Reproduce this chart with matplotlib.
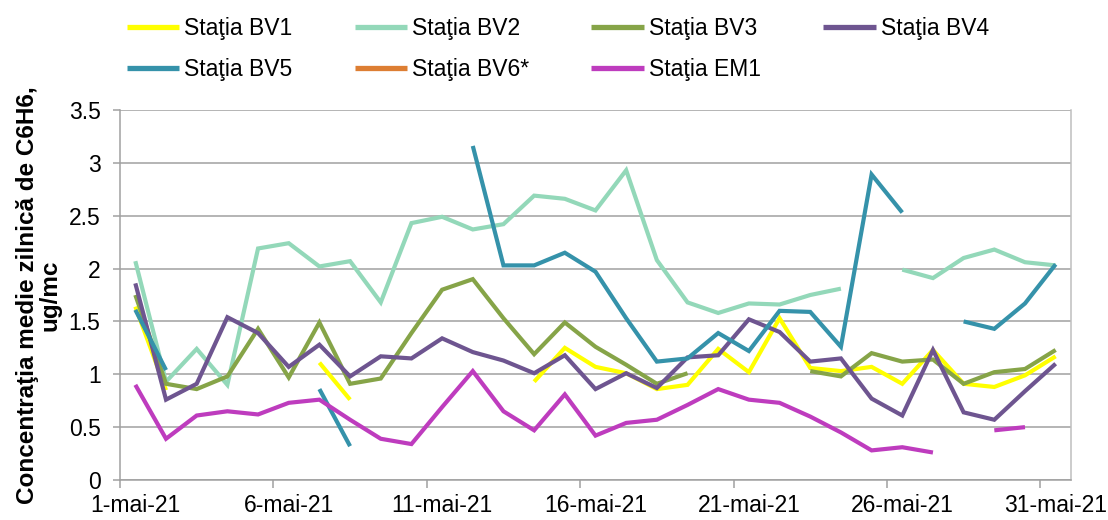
import numpy as np
import matplotlib
matplotlib.use("Agg")
import matplotlib.pyplot as plt

nan = np.nan
days = list(range(1, 32))
tick_days = [1, 6, 11, 16, 21, 26, 31]
tick_labels = ["1-mai-21", "6-mai-21", "11-mai-21", "16-mai-21", "21-mai-21", "26-mai-21", "31-mai-21"]

bv1 = [1.64, 0.85, nan, nan, nan, nan, 1.11, 0.76, nan, nan, nan, nan, nan, 0.93, 1.25, 1.07,
       1.01, 0.86, 0.90, 1.24, 1.02, 1.53, 1.06, 1.03, 1.07, 0.91, 1.23, 0.91, 0.88, 0.99, 1.17]
bv2 = [2.07, 0.93, 1.24, 0.90, 2.19, 2.24, 2.02, 2.07, 1.68, 2.43, 2.49, 2.37, 2.42, 2.69, 2.66, 2.55,
       2.93, 2.08, 1.68, 1.58, 1.67, 1.66, 1.75, 1.81, nan, 1.99, 1.91, 2.10, 2.18, 2.06, 2.03]
bv3 = [1.75, 0.91, 0.86, 0.98, 1.43, 0.97, 1.49, 0.91, 0.96, 1.39, 1.80, 1.90, 1.53, 1.19, 1.49, 1.26,
       1.09, 0.91, 1.01, nan, nan, nan, 1.03, 0.98, 1.20, 1.12, 1.14, 0.91, 1.02, 1.05, 1.23]
bv4 = [1.86, 0.76, 0.91, 1.54, 1.39, 1.07, 1.28, 0.98, 1.17, 1.15, 1.34, 1.21, 1.13, 1.01, 1.18, 0.86,
       1.01, 0.87, 1.16, 1.18, 1.52, 1.40, 1.12, 1.15, 0.77, 0.61, 1.23, 0.64, 0.57, 0.84, 1.10]
bv5 = [1.61, 1.04, nan, nan, nan, nan, 0.86, 0.32, nan, nan, nan, 3.16, 2.03, 2.03, 2.15, 1.97,
       1.53, 1.12, 1.15, 1.39, 1.22, 1.60, 1.59, 1.26, 2.89, 2.53, nan, 1.50, 1.43, 1.67, 2.04]
bv6 = [nan] * 31
em1 = [0.90, 0.39, 0.61, 0.65, 0.62, 0.73, 0.76, 0.57, 0.39, 0.34, 0.69, 1.03, 0.65, 0.47, 0.81, 0.42,
       0.54, 0.57, 0.71, 0.86, 0.76, 0.73, 0.60, 0.45, 0.28, 0.31, 0.26, nan, 0.47, 0.50, nan]

series_names = ["Staţia BV1", "Staţia BV2", "Staţia BV3", "Staţia BV4", "Staţia BV5", "Staţia BV6*", "Staţia EM1"]
series_data = [bv1, bv2, bv3, bv4, bv5, bv6, em1]
colors = ["#FFFF00", "#93D8B9", "#86A448", "#6E5590", "#3592AA", "#DD7E33", "#BE3CBE"]

plt.rcParams["font.family"] = ["Liberation Sans", "DejaVu Sans"]

fig = plt.figure(figsize=(11.08, 5.2), dpi=100)
ax = fig.add_axes([120 / 1108, 40 / 520, 951 / 1108, 370 / 520])

handles = []
for name, vals, c in zip(series_names, series_data, colors):
    h, = ax.plot(days, vals, color=c, lw=3.0, label=name, solid_joinstyle="miter", solid_capstyle="butt")
    handles.append(h)

ax.set_xlim(0.5, 31.5)
ax.set_ylim(0, 3.5)
ax.set_yticks(np.arange(0, 3.51, 0.5))
ax.set_yticklabels(["0", "0.5", "1", "1.5", "2", "2.5", "3", "3.5"])
ax.yaxis.grid(True, color="#A0A0A0", lw=1.1)
ax.set_axisbelow(True)

ax.set_xticks([d - 0.5 for d in tick_days])
ax.set_xticklabels([""] * len(tick_days))
ax.set_xticks(tick_days, minor=True)
ax.set_xticklabels(tick_labels, minor=True)
ax.tick_params(axis="x", which="major", length=6, color="#A0A0A0", width=1.1)
ax.tick_params(axis="x", which="minor", length=0, labelsize=16.5, pad=10)
ax.tick_params(axis="y", length=5, color="#A0A0A0", width=1.1, labelsize=16.5, pad=9)

for s in ["left", "bottom"]:
    ax.spines[s].set_color("#A0A0A0")
    ax.spines[s].set_linewidth(1.1)
ax.spines["right"].set_color("#BFBFBF")
ax.spines["right"].set_linewidth(1.1)
ax.spines["top"].set_visible(False)

ax.set_ylabel("Concentraţia medie zilnică de C6H6,\nug/mc", fontsize=17.5, fontweight="bold",
              labelpad=5, linespacing=1.0)

order = [0, 4, 1, 5, 2, 6, 3]
leg = fig.legend([handles[i] for i in order], [series_names[i] for i in order],
                 ncol=4, loc="upper left", bbox_to_anchor=(113 / 1108, 1.0 - 3 / 520),
                 frameon=False, fontsize=16.5, handlelength=2.3, handletextpad=0.22,
                 columnspacing=2.7, labelspacing=0.8, borderaxespad=0.2)
for lh in leg.get_lines():
    lh.set_linewidth(3.8)

fig.savefig("out.png", dpi=100)
